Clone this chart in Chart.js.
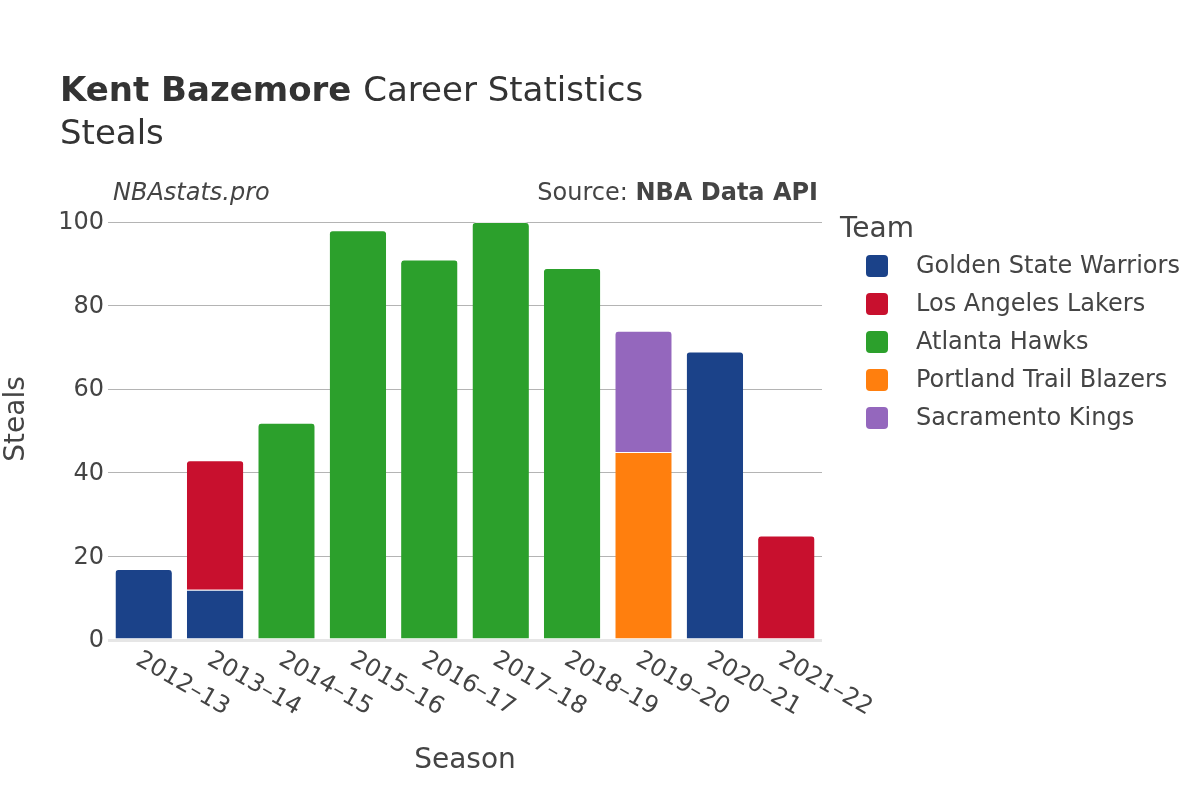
<!DOCTYPE html>
<html>
<head>
<meta charset="utf-8">
<script src="https://cdn.jsdelivr.net/npm/chart.js@4"></script>
<style>
  body { margin: 0; background: #fff; }
  canvas { display: block; }
</style>
</head>
<body>
<canvas id="chart" width="1200" height="800"></canvas>
<script>
const seasons = ['2012–13', '2013–14', '2014–15', '2015–16', '2016–17', '2017–18', '2018–19', '2019–20', '2020–21', '2021–22'];
const teams = ['Golden State Warriors', 'Los Angeles Lakers', 'Atlanta Hawks', 'Portland Trail Blazers', 'Sacramento Kings'];
const teamColors = ['#1b4289', '#c8102e', '#2ca02c', '#ff7f0e', '#9467bd'];
const gswSteals = [17, 12, null, null, null, null, null, null, 69, null];
const lalSteals = [null, 31, null, null, null, null, null, null, null, 25];
const atlSteals = [null, null, 52, 98, 91, 100, 89, null, null, null];
const porSteals = [null, null, null, null, null, null, null, 45, null, null];
const sacSteals = [null, null, null, null, null, null, null, 29, null, null];
const yTicks = [0, 20, 40, 60, 80, 100];

const FONT = '"DejaVu Sans", sans-serif';
const TEXT = '#444';

const series = [gswSteals, lalSteals, atlSteals, porSteals, sacSteals];

const textPlugin = {
  id: 'texts',
  afterDraw(chart) {
    const ctx = chart.ctx;
    const area = chart.chartArea;
    const xs = chart.scales.x;
    const ys = chart.scales.y;
    ctx.save();
    ctx.fillStyle = '#333';
    ctx.textBaseline = 'alphabetic';
    ctx.textAlign = 'left';
    ctx.font = 'bold 34px ' + FONT;
    ctx.fillText('Kent Bazemore', 60, 101);
    const w = ctx.measureText('Kent Bazemore ').width;
    ctx.font = '34px ' + FONT;
    ctx.fillText('Career Statistics', 60 + w, 101);
    ctx.fillText('Steals', 60, 144);

    ctx.fillStyle = TEXT;
    ctx.font = 'italic 24px ' + FONT;
    ctx.fillText('NBAstats.pro', 113, 200);
    ctx.textAlign = 'right';
    ctx.font = 'bold 24px ' + FONT;
    ctx.fillText('NBA Data API', 818, 200);
    const bw = ctx.measureText('NBA Data API').width;
    ctx.font = '24px ' + FONT;
    ctx.fillText('Source: ', 818 - bw, 200);

    // y tick labels
    ctx.textBaseline = 'middle';
    yTicks.forEach((v) => {
      ctx.fillText(String(v), 104, ys.getPixelForValue(v) + 1);
    });

    // rotated season labels
    ctx.textAlign = 'left';
    seasons.forEach((s, i) => {
      const x = xs.getPixelForTick(i);
      ctx.save();
      ctx.translate(x - 6, area.bottom + 18);
      ctx.rotate(Math.PI / 6);
      ctx.fillText(s, 0, 0);
      ctx.restore();
    });

    // axis titles
    ctx.font = '28px ' + FONT;
    ctx.textAlign = 'center';
    ctx.fillText('Season', (area.left + area.right) / 2, 761);
    ctx.save();
    ctx.translate(17, (area.top + area.bottom) / 2 - 12);
    ctx.rotate(-Math.PI / 2);
    ctx.fillText('Steals', 0, 0);
    ctx.restore();

    // legend
    ctx.textAlign = 'left';
    ctx.textBaseline = 'alphabetic';
    ctx.fillText('Team', 840, 237);
    ctx.font = '24px ' + FONT;
    ctx.textBaseline = 'middle';
    teams.forEach((t, i) => {
      const cy = 266 + i * 38;
      ctx.fillStyle = teamColors[i];
      ctx.beginPath();
      ctx.roundRect(866, cy - 11, 22, 22, 4);
      ctx.fill();
      ctx.fillStyle = TEXT;
      ctx.fillText(t, 916, cy + 1);
    });
    ctx.restore();
  }
};

new Chart(document.getElementById('chart'), {
  type: 'bar',
  data: {
    labels: seasons,
    datasets: teams.map((t, i) => ({
      label: t,
      data: series[i],
      backgroundColor: teamColors[i],
      borderColor: 'rgba(255,255,255,0.7)',
      borderWidth: { top: 1, left: 0, right: 0, bottom: 0 },
      borderSkipped: 'start',
      borderRadius: 4,
      categoryPercentage: 1,
      barPercentage: 0.79,
    })),
  },
  options: {
    responsive: false,
    animation: false,
    layout: { padding: { left: 108, right: 378, top: 222, bottom: 160 } },
    plugins: {
      legend: { display: false },
      tooltip: { enabled: false },
    },
    scales: {
      x: {
        stacked: true,
        grid: { display: false },
        border: { display: false },
        ticks: { display: false },
        afterFit: (s) => { s.height = 0; },
      },
      y: {
        stacked: true,
        min: 0,
        max: 100,
        afterFit: (s) => { s.width = 0; },
        border: { display: false },
        grid: {
          drawTicks: false,
          color: (c) => (c.tick && c.tick.value === 0 ? '#e6e6e6' : '#b4b4b4'),
          lineWidth: (c) => (c.tick && c.tick.value === 0 ? 3 : 1),
        },
        ticks: { display: false, stepSize: 20 },
      },
    },
  },
  plugins: [textPlugin],
});
</script>
</body>
</html>
